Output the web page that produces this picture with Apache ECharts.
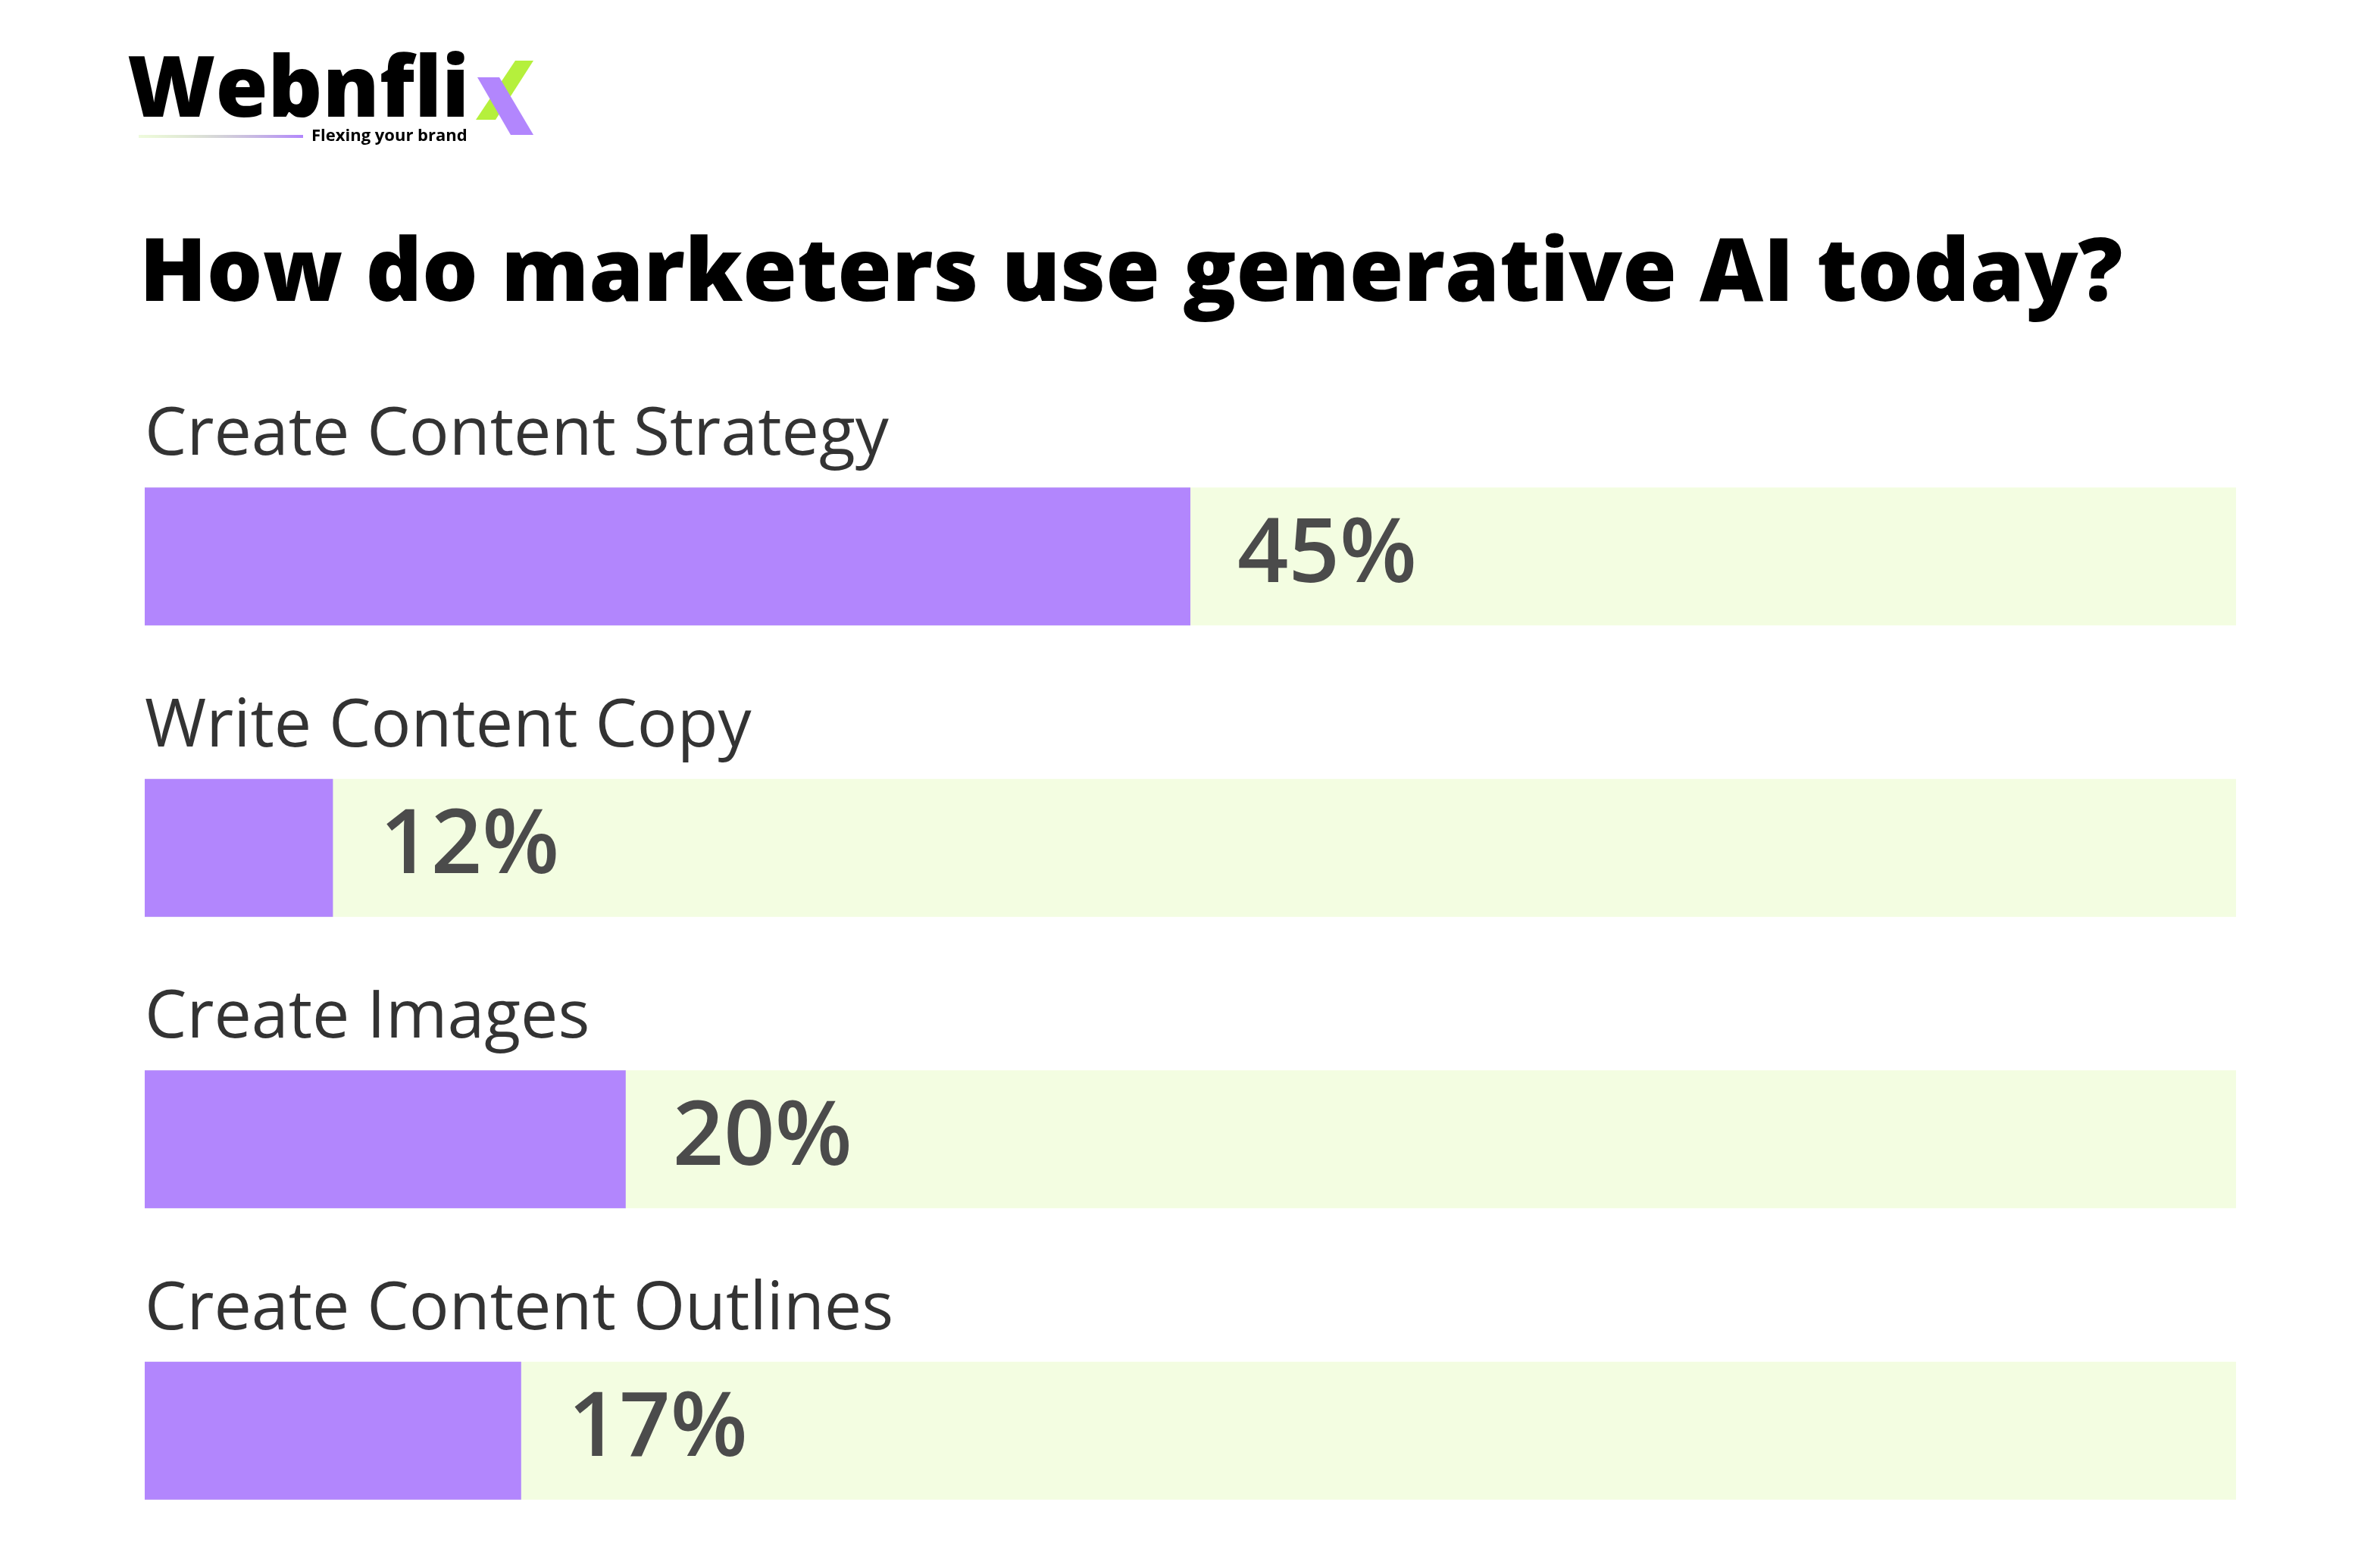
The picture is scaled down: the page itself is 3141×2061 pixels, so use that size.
<!DOCTYPE html>
<html><head><meta charset="utf-8">
<script src="https://cdn.jsdelivr.net/npm/echarts@6/dist/echarts.min.js"></script>
<style>html,body{margin:0;padding:0;background:#fff}#c{width:3141px;height:2061px}</style>
</head><body><div id="c"></div>
<script>
// Data
const categories = ['Create Content Strategy', 'Write Content Copy', 'Create Images', 'Create Content Outlines'];
const barLengths = [50, 9, 23, 18];          // purple bar lengths as drawn, % of the light track
const valueLabels = ['45%', '12%', '20%', '17%'];
const titleText = 'How do marketers use generative AI today?';
const brandName = 'Webnfli';
const brandTagline = 'Flexing your brand';

const FONT = '"Open Sans", "Noto Sans", sans-serif';
const PURPLE = '#b286fd';
const TRACK = '#f3fde1';

const chart = echarts.init(document.getElementById('c'), null, {renderer: 'canvas'});
chart.setOption({
  backgroundColor: '#ffffff',
  animation: false,
  grid: {left: 191, right: 190, top: 542, height: 1538, containLabel: false, outerBoundsMode: 'none'},
  xAxis: {type: 'value', min: 0, max: 100, show: false},
  yAxis: {
    type: 'category', data: categories, inverse: true, show: false
  },
  series: [{
    type: 'bar', data: barLengths, barWidth: 182,
    itemStyle: {color: PURPLE},
    showBackground: true, backgroundStyle: {color: TRACK},
    label: {
      show: true, position: 'right', distance: 62,
      formatter: p => valueLabels[p.dataIndex],
      fontFamily: FONT, fontSize: 118, fontWeight: 600, color: '#4b4b4b'
    },
    silent: true
  }, {
    type: 'scatter', symbolSize: 0, silent: true, clip: false,
    data: categories.map((c, i) => [0, i]),
    label: {
      show: true, position: 'right', distance: 0, offset: [0, -159],
      formatter: p => categories[p.dataIndex],
      fontFamily: FONT, fontSize: 88, fontWeight: 500, color: '#000000'
    }
  }],
  graphic: [
    {type: 'text', x: 184, y: 364, style: {text: titleText, fontFamily: FONT, fontSize: 116, fontWeight: 800, fill: '#000', verticalAlign: 'middle'}},
    {type: 'text', x: 168, y: 122, style: {text: brandName, fontFamily: FONT, fontSize: 112, fontWeight: 800, fill: '#000', verticalAlign: 'middle'}},
    {type: 'polygon', shape: {points: [[680, 80], [704, 80], [654, 158], [628, 158]]}, style: {fill: '#b5f03c'}},
    {type: 'polygon', shape: {points: [[630, 102], [659, 102], [704, 178], [674, 178]]}, style: {fill: PURPLE}},
    {type: 'rect', shape: {x: 183, y: 178, width: 217, height: 4},
      style: {fill: new echarts.graphic.LinearGradient(0, 0, 1, 0, [{offset: 0, color: 'rgba(200,240,140,0.3)'}, {offset: 1, color: PURPLE}])}},
    {type: 'text', x: 411, y: 180, style: {text: brandTagline, fontFamily: FONT, fontSize: 22, fontWeight: 'bold', fill: '#000', verticalAlign: 'middle'}}
  ]
});
</script></body></html>
